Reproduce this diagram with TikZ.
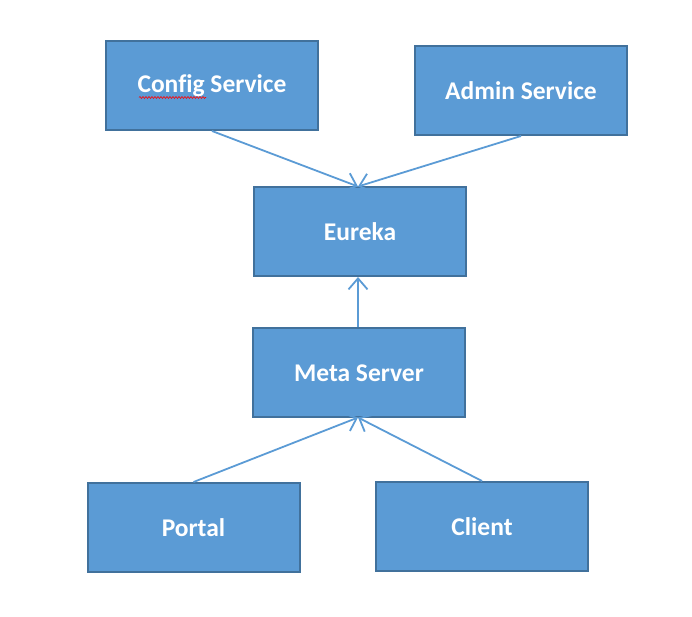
\documentclass[tikz,border=0pt]{standalone}
\usepackage{fontspec}
\setmainfont[Ligatures=NoCommon]{Carlito}
\usetikzlibrary{arrows.meta,decorations.pathmorphing}
\definecolor{boxfill}{HTML}{5B9BD5}
\definecolor{boxline}{HTML}{41719C}
\definecolor{arrowc}{HTML}{5B9BD5}
\begin{document}
\begin{tikzpicture}[x=1pt,y=-1pt,
  svc/.style={draw=boxline,line width=2pt,fill=boxfill,minimum width=212pt,minimum height=89pt,inner sep=0pt},
  lbl/.style={text=white,inner sep=0pt,font=\fontsize{25.5}{28}\selectfont\bfseries,yshift=-0.5pt},
  conn/.style={draw=arrowc,line width=1.8pt,-{Straight Barb[length=11pt,width=19pt,line width=1.8pt]}}]
\useasboundingbox (0,0) rectangle (692,616);
\node[svc] (config) at (212,85.5) {};
\node[svc] (admin) at (521,90.5) {};
\node[svc] (eureka) at (360,231.5) {};
\node[svc] (meta) at (359,372.5) {};
\node[svc] (portal) at (193.5,527.5) {};
\node[svc] (client) at (482,526.5) {};
\node[lbl] (configt) at (config) {Config Service};
\node[lbl] (admint) at (admin) {Admin Service};
\node[lbl] (eurekat) at (eureka) {Eureka};
\node[lbl] (metat) at (meta) {Meta Server};
\node[lbl] (portalt) at (portal) {Portal};
\node[lbl] (clientt) at (client) {Client};
\coordinate (eurekatop) at (358,186.5);
\coordinate (metabot) at (358,417.5);
\draw[conn] (config.south) -- (eurekatop);
\draw[conn] (admin.south) -- (eurekatop);
\draw[conn] (meta.north -| eurekatop) -- (eureka.south -| eurekatop);
\draw[conn] (portal.north) -- (metabot);
\draw[conn] (client.north) -- (metabot);
\coordinate (sqa) at (139,97.5);
\coordinate (sqb) at (206,97.5);
\draw[red,line width=0.6pt,decorate,decoration={snake,amplitude=1pt,segment length=3pt}] (sqa) -- (sqb);
\end{tikzpicture}
\end{document}
